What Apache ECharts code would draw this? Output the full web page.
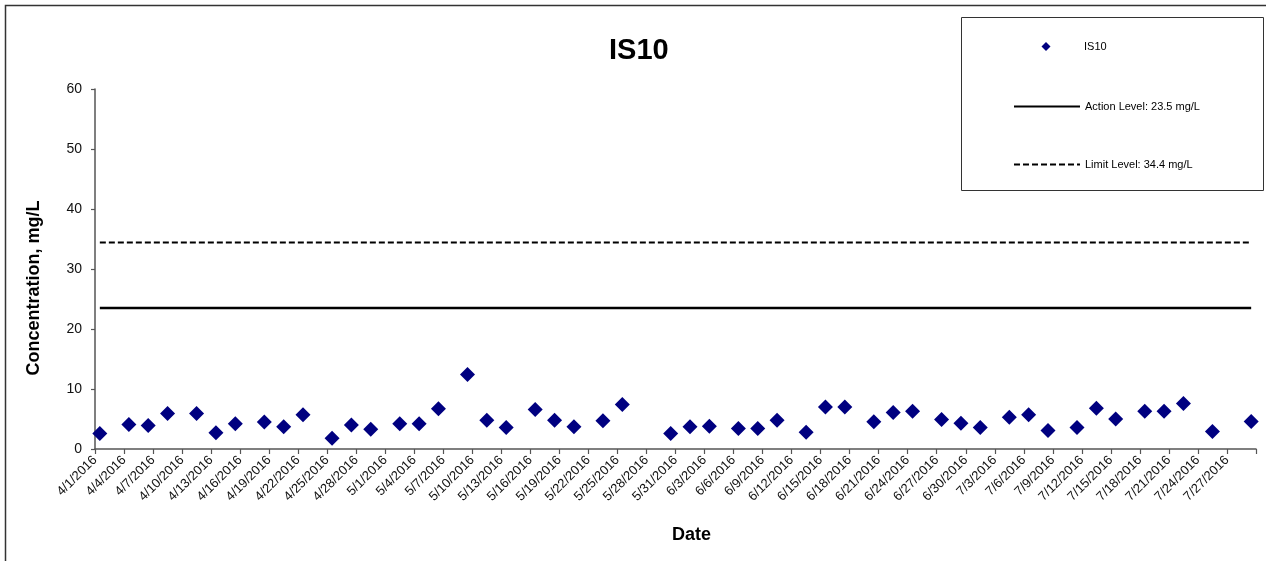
<!DOCTYPE html>
<html>
<head>
<meta charset="utf-8">
<script src="https://cdn.jsdelivr.net/npm/echarts@6/dist/echarts.min.js"></script>
<style>
html,body{margin:0;padding:0;background:#fff;}
#chart{width:1266px;height:561px;}
</style>
</head>
<body>
<div id="chart"></div>
<script>
// ---- data ----
const chartTitle = 'IS10';
const sampleDates = [
  '4/1/2016','4/4/2016','4/6/2016','4/8/2016','4/11/2016','4/13/2016','4/15/2016','4/18/2016','4/20/2016','4/22/2016',
  '4/25/2016','4/27/2016','4/29/2016','5/2/2016','5/4/2016','5/6/2016','5/9/2016','5/11/2016','5/13/2016','5/16/2016',
  '5/18/2016','5/20/2016','5/23/2016','5/25/2016','5/30/2016','6/1/2016','6/3/2016','6/6/2016','6/8/2016','6/10/2016',
  '6/13/2016','6/15/2016','6/17/2016','6/20/2016','6/22/2016','6/24/2016','6/27/2016','6/29/2016','7/1/2016','7/4/2016',
  '7/6/2016','7/8/2016','7/11/2016','7/13/2016','7/15/2016','7/18/2016','7/20/2016','7/22/2016','7/25/2016','7/29/2016'
];
const is10Values = [
  2.6, 4.1, 3.9, 5.9, 5.9, 2.7, 4.2, 4.5, 3.7, 5.7,
  1.8, 4.0, 3.3, 4.2, 4.2, 6.7, 12.4, 4.8, 3.6, 6.6,
  4.8, 3.7, 4.7, 7.4, 2.6, 3.7, 3.8, 3.4, 3.4, 4.8,
  2.8, 7.0, 7.0, 4.55, 6.1, 6.3, 4.9, 4.3, 3.6, 5.3,
  5.7, 3.1, 3.6, 6.8, 5.0, 6.3, 6.3, 7.6, 2.9, 4.6
];
const actionLevel = 23.5;
const limitLevel = 34.4;
const axisStartDate = '4/1/2016';
const axisEndDate = '7/30/2016';
const tickStepDays = 3;
const yTicks = [0, 10, 20, 30, 40, 50, 60];
const seriesNames = ['IS10', 'Action Level: 23.5 mg/L', 'Limit Level: 34.4 mg/L'];

// ---- helpers ----
function toUTC(s){ const p = s.split('/').map(Number); return Date.UTC(p[2], p[0]-1, p[1]); }
const DAY = 86400000;
const origin = toUTC(axisStartDate);
function dayIndex(s){ return Math.round((toUTC(s) - origin) / DAY); }
function dayLabel(v){
  const d = new Date(origin + v * DAY);
  return (d.getUTCMonth()+1) + '/' + d.getUTCDate() + '/' + d.getUTCFullYear();
}
const axisMax = dayIndex(axisEndDate);
// Excel date axis: each daily point sits in the middle of its day slot
const slot = 0.5;
const scatterData = sampleDates.map((s, i) => [dayIndex(s) + slot, is10Values[i]]);
const firstX = dayIndex(sampleDates[0]) + slot;
const lastX = dayIndex(sampleDates[sampleDates.length-1]) + slot;

const FONT = '"Liberation Sans", Arial, sans-serif';
const legendText = {fontFamily: FONT, fontSize: 11, color: '#000'};
const chart = echarts.init(document.getElementById('chart'), null, {renderer: 'canvas'});
chart.setOption({
  animation: false,
  backgroundColor: '#ffffff',
  title: {
    text: chartTitle,
    left: 604, top: 31,
    textStyle: {fontFamily: FONT, fontSize: 29, fontWeight: 'bold', color: '#000'}
  },
  grid: {left: 95, right: 10, top: 89, bottom: 112, containLabel: false, outerBoundsMode: 'none'},
  xAxis: {
    type: 'value',
    min: 0, max: axisMax, interval: tickStepDays,
    name: 'Date',
    nameLocation: 'middle',
    nameGap: 77,
    nameTextStyle: {fontFamily: FONT, fontSize: 18, fontWeight: 'bold', color: '#000', padding: [0, 0, 0, 32], verticalAlign: 'top'},
    axisLine: {show: true, onZero: false, lineStyle: {color: '#555', width: 1.5}},
    axisTick: {show: true, inside: false, length: 5, lineStyle: {color: '#555', width: 1.2}},
    splitLine: {show: false},
    axisLabel: {
      rotate: 45, margin: 9, interval: 0,
      fontFamily: FONT, fontSize: 13, color: '#111',
      showMaxLabel: true,
      formatter: function(v){ return v >= axisMax ? '' : dayLabel(v); }
    }
  },
  yAxis: {
    type: 'value',
    min: yTicks[0], max: yTicks[yTicks.length-1], interval: yTicks[1] - yTicks[0],
    name: 'Concentration, mg/L',
    nameLocation: 'middle',
    nameGap: 52,
    nameRotate: 90,
    nameTextStyle: {fontFamily: FONT, fontSize: 18, fontWeight: 'bold', color: '#000', padding: [0, 38, 0, 0]},
    axisLine: {show: true, lineStyle: {color: '#555', width: 1.5}},
    axisTick: {show: true, inside: false, length: 4, lineStyle: {color: '#555', width: 1.2}},
    splitLine: {show: false},
    axisLabel: {margin: 13, fontFamily: FONT, fontSize: 14, color: '#111'}
  },
  legend: [
    {
      data: [{name: seriesNames[0], icon: 'diamond'}], orient: 'vertical', left: 1036.5, top: 36,
      itemWidth: 9, itemHeight: 9, itemGap: 0,
      textStyle: Object.assign({padding: [0, 0, 0, 28.5]}, legendText), selectedMode: false
    },
    {
      data: [seriesNames[1]], orient: 'vertical', left: 1008, top: 96,
      itemWidth: 66, itemHeight: 12, itemGap: 0,
      itemStyle: {opacity: 0},
      textStyle: legendText, selectedMode: false
    },
    {
      data: [seriesNames[2]], orient: 'vertical', left: 1008, top: 154,
      itemWidth: 66, itemHeight: 12, itemGap: 0,
      itemStyle: {opacity: 0},
      textStyle: legendText, selectedMode: false
    }
  ],
  graphic: [
    {type: 'polyline', silent: true, z: 100,
     shape: {points: [[5.5, 561], [5.5, 5.5], [1266, 5.5]]},
     style: {stroke: '#333', lineWidth: 1.5, fill: null}},
    {type: 'rect', silent: true, z: -1,
     shape: {x: 961.5, y: 17.5, width: 302, height: 173},
     style: {stroke: '#333', lineWidth: 1, fill: '#fff'}}
  ],
  series: [
    {
      name: seriesNames[0], type: 'scatter',
      symbol: 'diamond', symbolSize: 15,
      itemStyle: {color: '#000080', opacity: 1},
      data: scatterData, z: 5
    },
    {
      name: seriesNames[1], type: 'line',
      symbol: 'none', showSymbol: false,
      lineStyle: {color: '#000', width: 2.5, type: 'solid'},
      itemStyle: {color: '#000'},
      data: [[firstX, actionLevel], [lastX, actionLevel]], z: 3
    },
    {
      name: seriesNames[2], type: 'line',
      symbol: 'none', showSymbol: false,
      lineStyle: {color: '#000', width: 2, type: [6, 3]},
      itemStyle: {color: '#000'},
      data: [[firstX, limitLevel], [lastX, limitLevel]], z: 3
    }
  ]
});
</script>
</body>
</html>
